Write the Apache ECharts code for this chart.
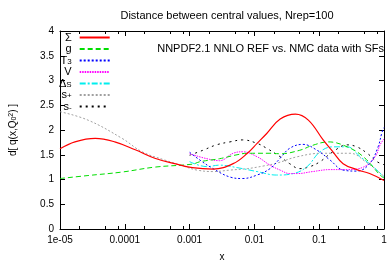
<!DOCTYPE html>
<html>
<head>
<meta charset="utf-8">
<script src="https://cdn.jsdelivr.net/npm/echarts@6/dist/echarts.min.js"></script>
<style>
    html, body { margin: 0; padding: 0; background: #fff; }
    #chart { width: 388px; height: 262px; }
</style>
</head>
<body>
<div id="chart"></div>
<script>
    // values
    var seriesNames = ['Σ', 'g', 'T3', 'V', 'ΔS', 's+', 's-'];
    var legendLabels = ['Σ', 'g', 'T{sb|3}', 'V', 'Δ{sb|S}', 's{sb|+}', 's{sb|-}'];
    var xTickLabels = ['1e-05', '0.0001', '0.001', '0.01', '0.1', '1'];
    var xMinorTicks = [2e-5, 5e-5, 8e-5, 2e-4, 5e-4, 8e-4, 2e-3, 5e-3, 8e-3, 0.02, 0.05, 0.08, 0.2, 0.5, 0.8];

    var sigmaX = [1e-5, 1.7e-5, 3.5e-5, 7e-5, 1.45e-4, 2.9e-4, 5.9e-4, 1.1e-3, 2.3e-3, 4.7e-3, 7.8e-3, 0.011, 0.0155, 0.025, 0.043, 0.068, 0.115, 0.163, 0.234, 0.38, 0.6, 1];
    var sigmaY = [1.62, 1.76, 1.83, 1.76, 1.6, 1.43, 1.32, 1.24, 1.21, 1.32, 1.53, 1.73, 1.93, 2.22, 2.32, 2.2, 1.8, 1.56, 1.32, 1.2, 1.12, 0.98];

    var gluonX = [1e-5, 2.7e-5, 9e-5, 2.9e-4, 1.1e-3, 1.45e-3, 2.9e-3, 5.4e-3, 7.8e-3, 0.0174, 0.025, 0.05, 0.079, 0.138, 0.27, 0.48, 0.87, 1];
    var gluonY = [1.02, 1.08, 1.15, 1.25, 1.31, 1.36, 1.42, 1.5, 1.53, 1.53, 1.52, 1.59, 1.69, 1.76, 1.66, 1.46, 1.09, 1.03];

    var t3X = [1e-3, 1.45e-3, 2.3e-3, 4.2e-3, 6.6e-3, 0.011, 0.0174, 0.025, 0.035, 0.056, 0.093, 0.148, 0.234, 0.38, 0.6, 0.81, 0.93, 1];
    var t3Y = [1.55, 1.39, 1.22, 1.05, 1.02, 1.09, 1.22, 1.43, 1.63, 1.71, 1.59, 1.39, 1.19, 1.17, 1.32, 1.66, 1.95, 2.05];

    var valX = [1e-3, 1.85e-3, 2.9e-3, 4.7e-3, 6.6e-3, 0.011, 0.0174, 0.025, 0.035, 0.046, 0.079, 0.148, 0.27, 0.48, 0.73, 0.87, 1];
    var valY = [1.52, 1.42, 1.38, 1.53, 1.56, 1.46, 1.29, 1.19, 1.12, 1.12, 1.16, 1.2, 1.2, 1.25, 1.46, 1.7, 1.82];

    var dsX = [1e-3, 1.85e-3, 2.9e-3, 5.4e-3, 0.011, 0.022, 0.04, 0.065, 0.103, 0.163, 0.27, 0.43, 0.68, 0.93, 1];
    var dsY = [1.36, 1.26, 1.29, 1.24, 1.16, 1.09, 1.12, 1.26, 1.56, 1.66, 1.66, 1.46, 1.26, 1.09, 1.06];

    var splusX = [1e-5, 2.7e-5, 9.1e-5, 1.85e-4, 4.2e-4, 8.5e-4, 1.3e-3, 2.3e-3, 4.2e-3, 7.8e-3, 0.0134, 0.022, 0.046, 0.11, 0.3, 0.53, 0.93, 1];
    var splusY = [2.37, 2.2, 1.83, 1.56, 1.39, 1.26, 1.19, 1.16, 1.19, 1.22, 1.27, 1.33, 1.46, 1.53, 1.53, 1.35, 1.1, 1.06];

    var sminusX = [1e-3, 1.6e-3, 2.6e-3, 4.2e-3, 6.6e-3, 0.011, 0.0155, 0.025, 0.035, 0.05, 0.072, 0.103, 0.163, 0.27, 0.38, 0.55, 0.78, 1];
    var sminusY = [1.49, 1.59, 1.7, 1.76, 1.8, 1.73, 1.63, 1.46, 1.32, 1.22, 1.26, 1.36, 1.56, 1.7, 1.66, 1.53, 1.36, 1.3];

    var allX = [sigmaX, gluonX, t3X, valX, dsX, splusX, sminusX];
    var allY = [sigmaY, gluonY, t3Y, valY, dsY, splusY, sminusY];
    var colors = ['#ff0000', '#00dd00', '#0000ff', '#ff00ff', '#00eeee', '#a0a0a0', '#000000'];
    var dashes = ['solid', [5, 3], [2, 2], [1.5, 1], [6, 2, 2, 2], [2, 2], [2, 4]];

    var chart = echarts.init(document.getElementById('chart'));
    var font = 'Liberation Sans, Arial, sans-serif';

    function pairs(xs, ys) {
        return xs.map(function (x, i) { return [x, ys[i]]; });
    }

    var series = seriesNames.map(function (name, i) {
        return {
            name: name,
            type: 'line',
            symbol: 'none',
            smooth: 0.4,
            data: pairs(allX[i], allY[i]),
            lineStyle: { color: colors[i], width: i === 0 ? 1.2 : 1, type: dashes[i] },
            itemStyle: { color: colors[i] },
            z: 10 - i
        };
    });

    var baseX = {
        type: 'log', logBase: 10, min: 1e-5, max: 1, splitNumber: 5,
        splitLine: { show: false }
    };

    var option = {
        animation: false,
        textStyle: { fontFamily: font },
        title: {
            text: 'Distance between central values, Nrep=100',
            left: 222, top: 5, textAlign: 'center',
            textStyle: { fontSize: 11, fontWeight: 'normal', color: '#000', fontFamily: font }
        },
        graphic: [{
            type: 'text', right: 4, top: 43,
            style: { text: 'NNPDF2.1 NNLO REF vs. NMC data with SFs', fontSize: 11, fill: '#000', fontFamily: font }
        }],
        legend: {
            orient: 'vertical', left: 54, top: 27, align: 'right',
            itemWidth: 30, itemHeight: 8, itemGap: 0.5,
            data: seriesNames,
            itemStyle: { opacity: 0 },
            formatter: function (name) { return legendLabels[seriesNames.indexOf(name)]; },
            textStyle: {
                fontSize: 11, color: '#000', fontFamily: font, width: 12, align: 'right', lineHeight: 10,
                padding: [0, 3, 0, 0],
                rich: { sb: { fontSize: 8, verticalAlign: 'bottom', lineHeight: 5, fontFamily: font } }
            }
        },
        grid: { left: 60, right: 4, top: 31, bottom: 33, containLabel: false, outerBoundsMode: 'none' },
        xAxis: [
            Object.assign({}, baseX, {
                position: 'bottom', name: 'x', nameLocation: 'middle', nameGap: 23,
                nameTextStyle: { fontSize: 10, color: '#000', fontFamily: font },
                axisLine: { lineStyle: { color: '#000', width: 1 } },
                axisTick: { inside: true, length: 5, lineStyle: { color: '#000' } },
                axisLabel: {
                    fontSize: 10, color: '#000', margin: 6, fontFamily: font,
                    formatter: function (v) { return xTickLabels[Math.round(Math.log10(v)) + 5]; }
                }
            }),
            Object.assign({}, baseX, {
                position: 'bottom', axisLine: { show: false }, axisLabel: { show: false },
                axisTick: { inside: true, length: 3, customValues: xMinorTicks, lineStyle: { color: '#000' } }
            }),
            Object.assign({}, baseX, {
                position: 'top', axisLabel: { show: false },
                axisLine: { lineStyle: { color: '#000', width: 1 } },
                axisTick: { inside: true, length: 5, lineStyle: { color: '#000' } }
            }),
            Object.assign({}, baseX, {
                position: 'top', axisLine: { show: false }, axisLabel: { show: false },
                axisTick: { inside: true, length: 3, customValues: xMinorTicks, lineStyle: { color: '#000' } }
            })
        ],
        yAxis: [
            {
                type: 'value', min: 0, max: 4, interval: 0.5, position: 'left',
                name: 'd[ q(x,Q{sb|0}{sp|2}) ]', nameLocation: 'middle', nameGap: 42, nameRotate: 90,
                nameTextStyle: {
                    fontSize: 10, color: '#000', fontFamily: font,
                    rich: {
                        sb: { fontSize: 7, verticalAlign: 'bottom', fontFamily: font },
                        sp: { fontSize: 7, verticalAlign: 'top', fontFamily: font }
                    }
                },
                splitLine: { show: false },
                axisLine: { show: true, lineStyle: { color: '#000', width: 1 } },
                axisTick: { show: true, inside: true, length: 5, lineStyle: { color: '#000' } },
                axisLabel: { fontSize: 10, color: '#000', margin: 6, fontFamily: font }
            },
            {
                type: 'value', min: 0, max: 4, interval: 0.5, position: 'right',
                splitLine: { show: false }, axisLabel: { show: false },
                axisLine: { show: true, lineStyle: { color: '#000', width: 1 } },
                axisTick: { show: true, inside: true, length: 5, lineStyle: { color: '#000' } }
            }
        ],
        series: series
    };

    chart.setOption(option);
</script>
</body>
</html>
